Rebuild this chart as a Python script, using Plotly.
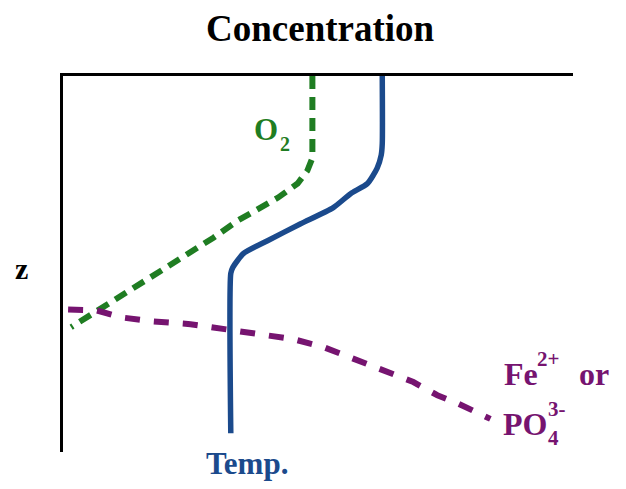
import plotly.graph_objects as go

# Profils verticaux (x = concentration relative, z = profondeur relative, 0-100)
temp_x = [62.6, 62.6, 62.4, 61.6, 59.7, 56.4, 53.0, 46.6, 40.1, 35.4, 33.3, 32.9, 32.9]
temp_z = [0.0, 18.0, 21.0, 24.5, 28.6, 31.3, 35.0, 39.3, 43.8, 47.2, 50.9, 52.5, 95.0]

o2_x = [48.9, 48.9, 47.9, 46.0, 42.1, 38.2, 34.2, 29.5, 24.5, 19.2, 15.3, 10.8, 7.4, 1.6]
o2_z = [0.0, 21.8, 25.2, 28.6, 32.4, 35.3, 38.5, 43.0, 47.2, 51.7, 55.2, 58.9, 61.5, 66.8]

fe_x = [1.0, 6.5, 11.4, 17.8, 25.0, 32.3, 38.7, 45.2, 51.1, 56.8, 62.8, 68.7, 73.4, 77.3, 83.8]
fe_z = [62.1, 62.3, 64.2, 65.3, 66.0, 67.4, 68.4, 70.0, 72.1, 75.1, 78.2, 81.4, 84.9, 87.0, 91.2]

BLUE = "#1b4a8c"
GREEN = "#1f7d22"
PURPLE = "#761470"
FONT = "Liberation Serif"

# zone de tracé en pixels de la page (fenêtre 626x489), la page décale de 8px
OFF = 8
L, R, T, B = 62, 573, 75, 452


def paper(px, py):
    return (px - L) / (R - L), 1 - (py - T) / (B - T)


fig = go.Figure()
fig.add_trace(go.Scatter(x=o2_x, y=o2_z, mode="lines",
                         line=dict(color=GREEN, width=6, dash="13px,8px")))
fig.add_trace(go.Scatter(x=fe_x, y=fe_z, mode="lines",
                         line=dict(color=PURPLE, width=6, dash="15px,14px")))
fig.add_trace(go.Scatter(x=temp_x, y=temp_z, mode="lines", line_shape="spline",
                         line=dict(color=BLUE, width=5.5, smoothing=0.6)))


def label(text, px, py, color, size, xanchor="center"):
    x, y = paper(px, py)
    fig.add_annotation(x=x, y=y, xref="paper", yref="paper", text=text,
                       showarrow=False, xanchor=xanchor, yanchor="middle",
                       font=dict(family=FONT, size=size, color=color))


label("<b>Concentration</b>", 320, 27, "black", 37)
label("<b>z</b>", 20, 268, "black", 30)
label("<b>O</b>", 265, 129, GREEN, 31)
label("<b>2</b>", 284, 143, GREEN, 20)
label("<b>Temp.</b>", 246, 464, BLUE, 31)
label("<b>Fe</b>", 502, 374, PURPLE, 32, "left")
label("<b>2+</b>", 535, 359, PURPLE, 21, "left")
label("<b>or</b>", 577, 374, PURPLE, 32, "left")
label("<b>PO</b>", 501, 424, PURPLE, 32, "left")
label("<b>3-</b>", 546, 409, PURPLE, 21, "left")
label("<b>4</b>", 546, 438, PURPLE, 21, "left")

fig.update_layout(
    width=626, height=489,
    margin=dict(l=L - OFF + 1, r=626 - R + OFF, t=T - OFF + 1, b=489 - B + OFF),
    plot_bgcolor="white", paper_bgcolor="white",
    showlegend=False,
    xaxis=dict(range=[0, 100], side="top", showline=True, linecolor="black",
               linewidth=3, showgrid=False, zeroline=False, showticklabels=False,
               ticks=""),
    yaxis=dict(range=[100, 0], showline=True, linecolor="black", linewidth=3,
               showgrid=False, zeroline=False, showticklabels=False, ticks=""),
)
fig.write_html("out.html")
